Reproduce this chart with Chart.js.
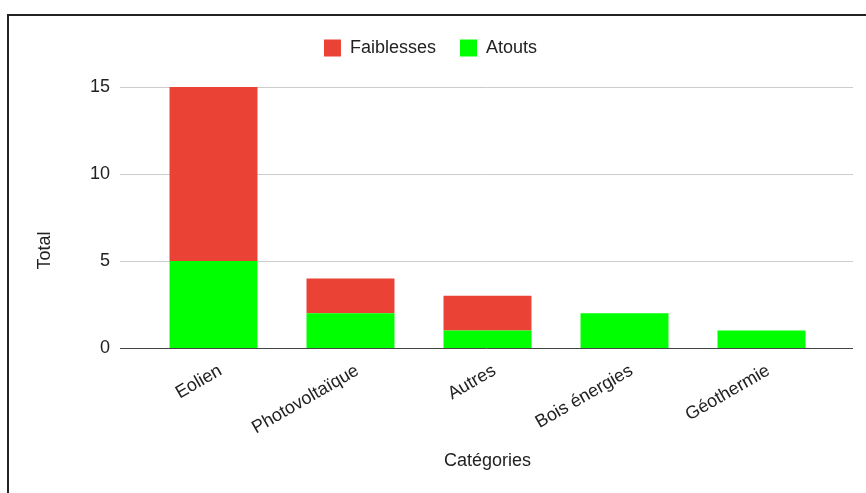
<!DOCTYPE html>
<html>
<head>
<meta charset="utf-8">
<script src="https://cdn.jsdelivr.net/npm/chart.js@4.4.1/dist/chart.umd.min.js"></script>
<style>
  html, body { margin: 0; padding: 0; background: #fff; overflow: hidden; }
  #frame { position: absolute; left: 7px; top: 14px; width: 1000px; height: 1000px; border: 2px solid #222; }
  #chart { position: absolute; left: 0; top: 0; }
</style>
</head>
<body>
<div id="frame"></div>
<canvas id="chart" width="866" height="493"></canvas>
<script>
const categories = ['Eolien', 'Photovoltaïque', 'Autres', 'Bois énergies', 'Géothermie'];
const atouts = [5, 2, 1, 2, 1];
const faiblesses = [10, 2, 2, 0, 0];
const yTicks = [0, 5, 10, 15];
const yTitle = 'Total';

const textColor = '#222';
const font = { family: 'Liberation Sans, Arial, sans-serif', size: 18 };

// lignes de grille un peu plus larges que la zone des barres (comme Google Charts)
const gridPlugin = {
    id: 'wideGrid',
    beforeDatasetsDraw(chart) {
        const { ctx, chartArea, scales } = chart;
        ctx.save();
        ctx.lineWidth = 1;
        ctx.strokeStyle = '#cccccc';
        yTicks.forEach(v => {
            if (v === 0) return;
            const y = Math.round(scales.y.getPixelForValue(v)) + 0.5;
            ctx.beginPath();
            ctx.moveTo(chartArea.left - 25, y);
            ctx.lineTo(chartArea.right + 23, y);
            ctx.stroke();
        });
        ctx.restore();
    },
    afterDatasetsDraw(chart) {
        const { ctx, chartArea, scales } = chart;
        const y = Math.round(scales.y.getPixelForValue(0)) + 0.5;
        ctx.save();
        ctx.strokeStyle = '#444';
        ctx.lineWidth = 1;
        ctx.beginPath();
        ctx.moveTo(chartArea.left - 25, y);
        ctx.lineTo(chartArea.right + 23, y);
        ctx.stroke();
        // titre de l'axe Y, un peu plus bas que le centre (comme l'original)
        ctx.fillStyle = textColor;
        ctx.font = font.size + 'px ' + font.family;
        ctx.textAlign = 'center';
        ctx.textBaseline = 'middle';
        ctx.translate(45, (chartArea.top + chartArea.bottom) / 2 + 33);
        ctx.rotate(-Math.PI / 2);
        ctx.fillText(yTitle, 0, 0);
        ctx.restore();
    }
};

// espace sous la légende
const legendSpace = {
    id: 'legendSpace',
    beforeInit(chart) {
        const fit = chart.legend.fit;
        chart.legend.fit = function () {
            fit.bind(chart.legend)();
            this.height += 20;
        };
    }
};

new Chart(document.getElementById('chart'), {
    type: 'bar',
    data: {
        labels: categories,
        datasets: [
            { label: 'Atouts', data: atouts, backgroundColor: '#00ff00' },
            { label: 'Faiblesses', data: faiblesses, backgroundColor: '#ea4335' }
        ]
    },
    options: {
        responsive: false,
        animation: false,
        layout: { padding: { left: 31, right: 36, top: 15, bottom: 17 } },
        datasets: { bar: { categoryPercentage: 1, barPercentage: 0.642 } },
        plugins: {
            legend: {
                position: 'top',
                reverse: true,
                labels: { boxWidth: 17, boxHeight: 17, padding: 24, color: textColor, font: font }
            },
            tooltip: { enabled: false }
        },
        scales: {
            x: {
                stacked: true,
                grid: { display: false },
                border: { display: false },
                ticks: { color: textColor, font: font, minRotation: 30, maxRotation: 30, padding: 4, labelOffset: 7 },
                title: { display: true, text: 'Catégories', color: textColor, font: font, padding: { top: 4, bottom: 4 } },
                afterFit(scale) { scale.height = 128; }
            },
            y: {
                stacked: true,
                min: 0,
                max: 15,
                afterBuildTicks(scale) { scale.ticks = yTicks.map(v => ({ value: v })); },
                grid: { display: false, drawTicks: false },
                border: { display: false },
                ticks: { color: textColor, font: font, padding: 35 },
                afterFit(scale) { scale.width = 114; }
            }
        }
    },
    plugins: [gridPlugin, legendSpace]
});
</script>
</body>
</html>
